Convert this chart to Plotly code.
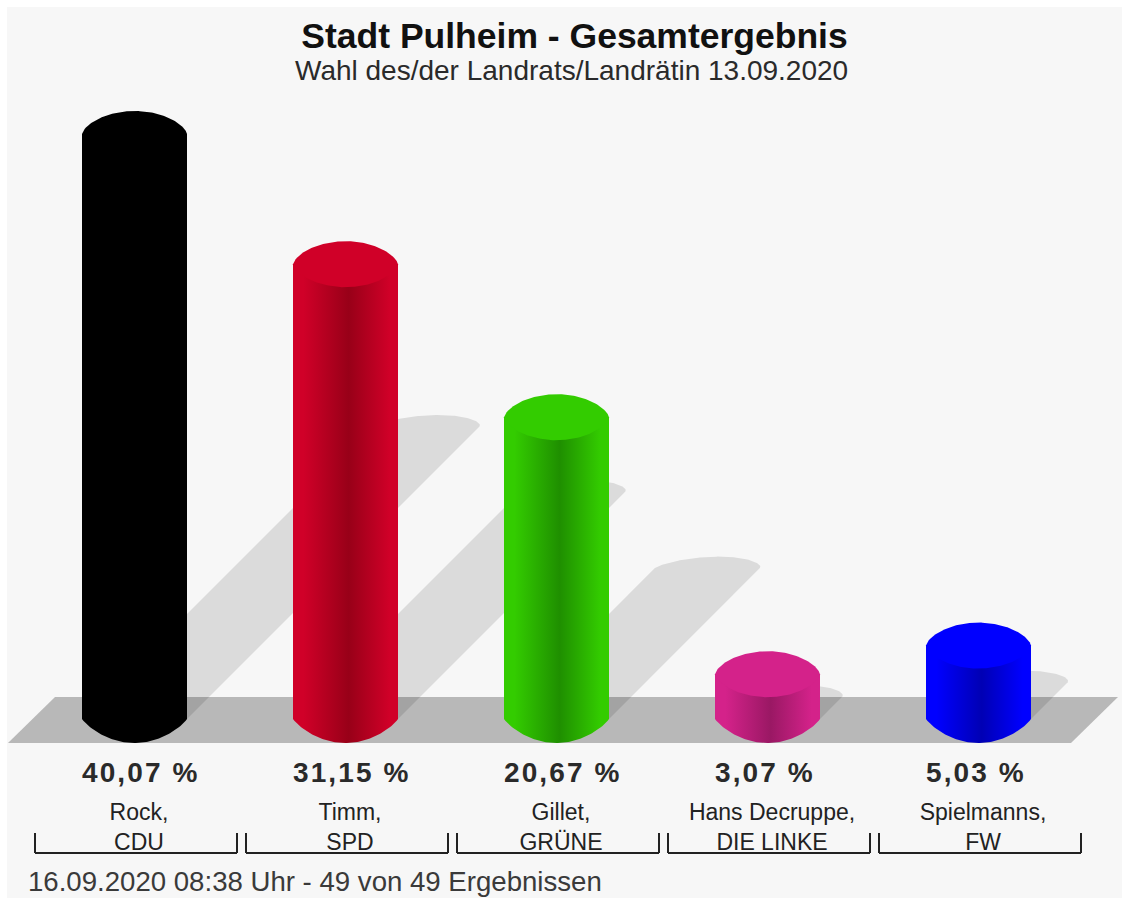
import numpy as np
import plotly.graph_objects as go

# --- data ---
names = ["Rock,", "Timm,", "Gillet,", "Hans Decruppe,", "Spielmanns,"]
parties = ["CDU", "SPD", "GRÜNE", "DIE LINKE", "FW"]
values = [40.07, 31.15, 20.67, 3.07, 5.03]
value_labels = ["40,07 %", "31,15 %", "20,67 %", "3,07 %", "5,03 %"]
edge_colors = ["#000000", "#d00028", "#33cc00", "#d4228a", "#0000ff"]
dark_colors = ["#000000", "#980018", "#1f8f00", "#9a1864", "#0000b4"]
title_text = "Stadt Pulheim - Gesamtergebnis"
subtitle_text = "Wahl des/der Landrats/Landrätin 13.09.2020"
footer_text = "16.09.2020 08:38 Uhr - 49 von 49 Ergebnissen"

# --- layout constants (pixels on the 1133x906 page) ---
W, H = 1133, 906
PX_X, PX_Y = 211.0, 14.6   # pixels per category / per percentage point
X0_PX, Y0_PX = 134.5, 719.0
PLOT_BOTTOM = 795
HW = 52.5 / PX_X           # half cylinder width, axis units
RY = 23.0 / PX_Y           # top cap height, axis units
RY_BOTTOM = 24.0 / PX_Y    # bottom curve height, axis units
t = np.linspace(-1, 1, 81)
arc = (1 - t ** 2) ** 0.65
arc_bottom = (1 - t ** 2) ** 0.85

indices = list(range(len(values)))
fig = go.Figure()

# shadows cast to the upper right
for i, v in zip(indices, values):
    xs = list(i + HW * t) + [i + HW, i - HW]
    hs = np.array(list(v + RY * arc) + [0, 0])
    sx = np.array(xs) + hs * 0.5 * PX_Y / PX_X
    sy = hs * 0.5
    fig.add_trace(go.Scatter(x=sx, y=sy, mode="lines", line=dict(width=0), fill="toself",
                             fillcolor="rgba(0,0,0,0.11)", hoverinfo="skip", showlegend=False))

# the bars themselves
fig.add_trace(go.Bar(x=indices, y=values, width=2 * HW, marker=dict(color=edge_colors, line=dict(width=0)),
                     showlegend=False, hovertext=value_labels, hoverinfo="text"))

# cylinder body with a horizontal gradient, then the flat top cap
for i, v, edge, dark in zip(indices, values, edge_colors, dark_colors):
    bx = [i - HW] + list(i + HW * t) + [i + HW, i - HW]
    by = [v] + list(-RY_BOTTOM * arc_bottom) + [v, v]
    fig.add_trace(go.Scatter(x=bx, y=by, mode="lines", line=dict(width=0), fill="toself",
                             fillgradient=dict(type="horizontal",
                                               colorscale=[[0, edge], [0.1, edge], [0.53, dark], [0.92, edge], [1, edge]]),
                             hoverinfo="skip", showlegend=False))
    cx = list(i + HW * t) + list(i - HW * t)
    cy = list(v + RY * arc) + list(v - RY * arc)
    fig.add_trace(go.Scatter(x=cx, y=cy, mode="lines", line=dict(width=0), fill="toself",
                             fillcolor=edge, hoverinfo="skip", showlegend=False))

# value labels, left aligned on each bar's left edge
VAL_Y = (Y0_PX - 775) / PX_Y
fig.add_trace(go.Scatter(x=[i - HW for i in indices], y=[VAL_Y] * len(indices), mode="text",
                         text=[f"<b>{s}</b>" for s in value_labels], textposition="middle right",
                         textfont=dict(family="Liberation Sans", size=28, color="#2a2a2a"),
                         hoverinfo="skip", showlegend=False, cliponaxis=False))

def fx(px): return (px - X0_PX) / PX_X
def fy(px): return (Y0_PX - px) / PX_Y
def py(px): return 1 - px / PLOT_BOTTOM   # page pixel to paper fraction (plot area = top 795 px)

shapes = []
# page panel
shapes.append(dict(type="rect", xref="paper", yref="paper", x0=7 / W, x1=1122 / W,
                   y0=py(898), y1=py(7), fillcolor="#f7f7f7", line=dict(width=0), layer="below"))
# floor
floor = [(8, 743), (55, 697), (1118, 697), (1071, 743)]
path = "M " + " L ".join(f"{fx(a):.4f},{fy(b):.4f}" for a, b in floor) + " Z"
shapes.append(dict(type="path", xref="x", yref="y", path=path, fillcolor="#b8b8b8", line=dict(width=0), layer="below"))
# brackets under the labels
BR_C = 1.5 / PX_X
BR_HW = 101 / PX_X
for i in indices:
    a, b = i + BR_C - BR_HW, i + BR_C + BR_HW
    for x0, y0, x1, y1 in [(a, py(833), a, py(853)), (a, py(853), b, py(853)), (b, py(853), b, py(833))]:
        shapes.append(dict(type="line", xref="x", yref="paper", x0=x0, x1=x1, y0=y0, y1=y1,
                           line=dict(color="#222222", width=2)))

fig.update_layout(
    width=W, height=H, autosize=False,
    margin=dict(l=0, r=0, t=0, b=H - PLOT_BOTTOM, pad=0),
    paper_bgcolor="#ffffff", plot_bgcolor="rgba(0,0,0,0)",
    barmode="overlay", showlegend=False, shapes=shapes,
    title=dict(text=f"<b>{title_text}</b>", x=574.5 / W, xanchor="center", y=1 - 36 / H, yanchor="middle",
               font=dict(family="Liberation Sans", size=35.5, color="#111111")),
    annotations=[
        dict(text=subtitle_text, xref="paper", yref="paper", x=571.5 / W, y=py(71),
             xanchor="center", yanchor="middle", showarrow=False,
             font=dict(family="Liberation Sans", size=28, color="#2a2a2a")),
        dict(text=footer_text, xref="paper", yref="paper", x=25.5 / W, y=py(881),
             xanchor="left", yanchor="middle", showarrow=False,
             font=dict(family="Liberation Sans", size=27.6, color="#3a3a3a")),
    ],
    xaxis=dict(range=[-X0_PX / PX_X, (W - X0_PX) / PX_X], showgrid=False, zeroline=False, showline=False,
               tickmode="array", tickvals=[i + 4.5 / PX_X for i in indices],
               ticktext=[f"{n}<br>{p}" for n, p in zip(names, parties)], ticks="", ticklen=0,
               ticklabelstandoff=1,
               tickangle=0, tickfont=dict(family="Liberation Sans", size=23, color="#222222"), fixedrange=True),
    yaxis=dict(range=[(Y0_PX - PLOT_BOTTOM) / PX_Y, Y0_PX / PX_Y], showgrid=False, zeroline=False,
               showline=False, showticklabels=False, ticks="", fixedrange=True),
)

fig.write_html("out.html", config={"displayModeBar": False},
               post_script="document.body.style.margin='0';"
                           "document.querySelectorAll('.textpoint text').forEach(function(t){t.style.letterSpacing='2.1px';});")
